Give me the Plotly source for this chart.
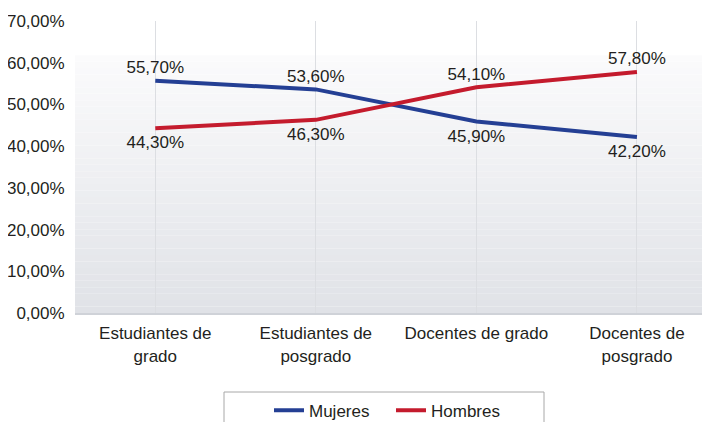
import plotly.graph_objects as go

categories = ["Estudiantes de<br>grado", "Estudiantes de<br>posgrado", "Docentes de grado", "Docentes de<br>posgrado"]
mujeres = [55.70, 53.60, 45.90, 42.20]
hombres = [44.30, 46.30, 54.10, 57.80]
y_ticks = [0, 10, 20, 30, 40, 50, 60, 70]
y_ticklabels = [("%.2f%%" % v).replace(".", ",") for v in y_ticks]

BLUE = "#243f94"
RED = "#c41b2d"
TXT = "#231f20"
FONT = "Liberation Sans, Arial, Helvetica, sans-serif"
FS = 17

x = list(range(len(categories)))

def positions(a, b):
    return ["top center" if va >= vb else "bottom center" for va, vb in zip(a, b)]

fig = go.Figure()
for name, vals, other, col in [("Mujeres", mujeres, hombres, BLUE), ("Hombres", hombres, mujeres, RED)]:
    pos = positions(vals, other)
    fig.add_trace(go.Scatter(
        x=x, y=vals, name=name, mode="lines+markers+text",
        line=dict(color=col, width=4),
        marker=dict(size=[4 if p.startswith("top") else 10 for p in pos],
                    color="rgba(0,0,0,0)", opacity=0, line=dict(width=0, color="rgba(0,0,0,0)")),
        texttemplate="%{y:.2f}%", textposition=pos,
        textfont=dict(size=FS, color=TXT, family=FONT), cliponaxis=False,
    ))

# background gradient (decoration) as thin stacked bands
shapes = []
n = 40
top_val = 61.8
c_top = (251, 251, 252)
c_bot = (224, 226, 231)
for i in range(n):
    t = (i + 0.5) / n
    col = tuple(round(c_bot[k] + (c_top[k] - c_bot[k]) * t) for k in range(3))
    shapes.append(dict(type="rect", xref="paper", yref="y", x0=0, x1=1,
                       y0=top_val * i / n, y1=top_val * (i + 1) / n,
                       fillcolor="rgb(%d,%d,%d)" % col, line=dict(width=0), layer="below"))

# legend box
shapes.append(dict(type="rect", xref="paper", yref="paper",
                   x0=(224 - 75) / 635, x1=(544 - 75) / 635,
                   y0=-(392 - 313) / 292, y1=-(440 - 313) / 292,
                   line=dict(color="#a8a8a8", width=1), fillcolor="rgba(0,0,0,0)"))

fig.update_layout(
    width=710, height=422,
    margin=dict(l=67, r=8, t=13, b=117, autoexpand=False),
    paper_bgcolor="white", plot_bgcolor="rgba(0,0,0,0)",
    separators=",.",
    font=dict(family=FONT, size=FS, color=TXT),
    showlegend=True,
    legend=dict(orientation="h", x=(391 - 75) / 635, xanchor="center",
                yref="container", y=1 - 402.7 / 422, yanchor="middle",
                entrywidth=77, entrywidthmode="pixels",
                font=dict(size=FS, color=TXT, family=FONT),
                bgcolor="rgba(0,0,0,0)"),
    shapes=shapes,
)
fig.update_xaxes(
    range=[-0.5, 3.455], tickvals=x, ticktext=categories,
    showgrid=True, gridcolor="#dcdee2", gridwidth=1,
    showline=True, linecolor="#cfd2d8", linewidth=2,
    ticks="outside", ticklen=4, tickcolor="rgba(0,0,0,0)",
    zeroline=False, fixedrange=True, automargin=False,
)
fig.update_yaxes(
    range=[0, 70], tickvals=y_ticks, ticktext=y_ticklabels,
    showgrid=False, zeroline=False, showline=False,
    ticks="outside", ticklen=6, tickcolor="rgba(0,0,0,0)", automargin=False,
)

fig.write_html("out.html")
